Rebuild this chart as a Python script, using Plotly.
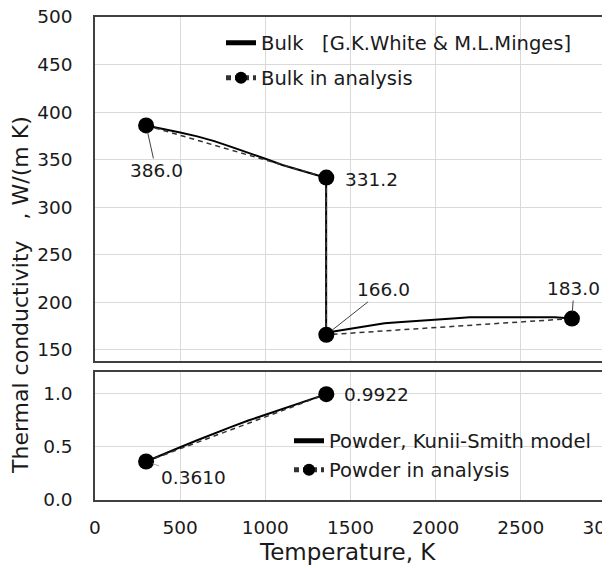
import plotly.graph_objects as go

# ---------------- data ----------------
bulk_ref_T = [300, 400, 500, 600, 700, 800, 900, 1000, 1100, 1200, 1300, 1357,
              1357, 1400, 1500, 1600, 1700, 1800, 1900, 2000, 2100, 2200, 2400, 2600, 2700, 2800]
bulk_ref_k = [386.0, 382.5, 378.5, 374.5, 369.5, 363.5, 357.5, 351.0, 344.5, 339.0, 334.0, 331.2,
              166.0, 169.5, 172.5, 175.5, 178.0, 179.5, 180.5, 181.5, 183.0, 184.5, 184.7, 184.7, 184.5, 183.0]

bulk_an_T = [300, 1358, 1358, 2800]
bulk_an_k = [386.0, 331.2, 166.0, 183.0]

powder_ks_T = [300, 400, 500, 600, 700, 800, 900, 1000, 1100, 1200, 1300, 1358]
powder_ks_k = [0.361, 0.430, 0.495, 0.560, 0.625, 0.685, 0.745, 0.800, 0.855, 0.910, 0.965, 0.9922]

powder_an_T = [300, 1358]
powder_an_k = [0.361, 0.9922]

bulk_labels = ["386.0", "331.2", "166.0", "183.0"]
powder_labels = ["0.3610", "0.9922"]

x_ticks = [0, 500, 1000, 1500, 2000, 2500, 3000]
y_top_ticks = [150, 200, 250, 300, 350, 400, 450, 500]
y_bot_ticks = [0.0, 0.5, 1.0]

# ---------------- style ----------------
FONT = "DejaVu Sans, Liberation Sans, Arial, sans-serif"
TXT = "#1a1a1a"
GRID = "#d9d9d9"
BOX = "#404040"

# page body has an 8px default margin -> figure is 8px smaller and shifted
W, H = 602, 560
ML, MR, MT, MB = 87, 4, 9, 68
PW, PH = W - ML - MR, H - MT - MB   # 511 x 483

fig = go.Figure()

fig.add_trace(go.Scatter(x=bulk_ref_T, y=bulk_ref_k, mode="lines",
                         line=dict(color="#000000", width=2),
                         name="Bulk\u00a0\u00a0\u00a0[G.K.White & M.L.Minges]",
                         legend="legend", xaxis="x", yaxis="y"))
fig.add_trace(go.Scatter(x=bulk_an_T, y=bulk_an_k, mode="lines+markers",
                         line=dict(color="#333333", width=1.5, dash="5px,4px"),
                         marker=dict(color="#000000", size=16),
                         name="Bulk in analysis",
                         legend="legend2", xaxis="x", yaxis="y"))
fig.add_trace(go.Scatter(x=powder_ks_T, y=powder_ks_k, mode="lines",
                         line=dict(color="#000000", width=2),
                         name="Powder, Kunii-Smith model",
                         legend="legend3", xaxis="x2", yaxis="y2"))
fig.add_trace(go.Scatter(x=powder_an_T, y=powder_an_k, mode="lines+markers",
                         line=dict(color="#333333", width=1.5, dash="5px,4px"),
                         marker=dict(color="#000000", size=16),
                         name="Powder in analysis",
                         legend="legend4", xaxis="x2", yaxis="y2"))

axis_common = dict(showgrid=True, gridcolor=GRID, gridwidth=1, zeroline=False,
                   showline=True, linecolor=BOX, linewidth=1.5, mirror=True,
                   automargin=False, ticks="", ticklabeloverflow="allow",
                   tickfont=dict(family=FONT, size=18.5, color=TXT))

def px_x(px):   # page pixel -> paper x
    return (px - 8 - ML) / PW

def px_y(py):   # page pixel -> paper y
    return (H - MB - (py - 8)) / PH

def leg(x, y):
    return dict(x=x, y=y, xanchor="left", yanchor="middle", bgcolor="rgba(0,0,0,0)",
                font=dict(family=FONT, size=19.5, color=TXT), itemsizing="constant",
                borderwidth=0)

fig.update_layout(
    width=W, height=H,
    margin=dict(l=ML, r=MR, t=MT, b=MB),
    paper_bgcolor="white", plot_bgcolor="white",
    font=dict(family=FONT, color=TXT),
    xaxis=dict(domain=[0, 1], anchor="y", range=[0, 3000], tickvals=x_ticks,
               showticklabels=False, **axis_common),
    yaxis=dict(domain=[0.2878, 1], anchor="x", range=[138.4, 500], tickvals=y_top_ticks,
               ticklabelstandoff=17, **axis_common),
    xaxis2=dict(domain=[0, 1], anchor="y2", range=[0, 3000], tickvals=x_ticks,
                ticklabelstandoff=10, **axis_common),
    yaxis2=dict(domain=[0, 0.265], anchor="x2", range=[0, 1.2], tickvals=y_bot_ticks,
                tickformat=".1f", ticklabelstandoff=17, **axis_common),
    legend=leg(px_x(221), px_y(43)),
    legend2=leg(px_x(221), px_y(78)),
    legend3=leg(px_x(289), px_y(441)),
    legend4=leg(px_x(289), px_y(470)),
    showlegend=True,
)

lab_font = dict(family=FONT, size=18.5, color=TXT)
# bulk labels
fig.add_annotation(x=bulk_an_T[0], y=bulk_an_k[0], xref="x", yref="y", text=bulk_labels[0],
                   showarrow=True, arrowhead=0, arrowwidth=1, arrowcolor=BOX,
                   ax=10, ay=45, standoff=7, font=lab_font)
fig.add_annotation(x=bulk_an_T[1], y=bulk_an_k[1], xref="x", yref="y", text=bulk_labels[1],
                   showarrow=False, xanchor="left", xshift=17, yshift=-2, font=lab_font)
fig.add_annotation(x=bulk_an_T[2], y=bulk_an_k[2], xref="x", yref="y", text=bulk_labels[2],
                   showarrow=True, arrowhead=0, arrowwidth=1, arrowcolor=BOX,
                   ax=57, ay=-45, standoff=7, font=lab_font)
fig.add_annotation(x=bulk_an_T[3], y=bulk_an_k[3], xref="x", yref="y", text=bulk_labels[3],
                   showarrow=True, arrowhead=0, arrowwidth=1, arrowcolor=BOX,
                   ax=2, ay=-30, standoff=7, font=lab_font)
# powder labels
fig.add_annotation(x=powder_an_T[0], y=powder_an_k[0], xref="x2", yref="y2", text=powder_labels[0],
                   showarrow=True, arrowhead=0, arrowwidth=1, arrowcolor="#a6a6a6",
                   ax=47, ay=16, standoff=7, font=lab_font)
fig.add_annotation(x=powder_an_T[1], y=powder_an_k[1], xref="x2", yref="y2", text=powder_labels[1],
                   showarrow=False, xanchor="left", xshift=16, font=lab_font)

# axis titles
fig.add_annotation(xref="paper", yref="paper", x=px_x(347), y=px_y(552),
                   text="Temperature, K", showarrow=False, xanchor="center", yanchor="middle",
                   font=dict(family=FONT, size=23, color=TXT))
fig.add_annotation(xref="paper", yref="paper", x=px_x(20), y=px_y(295),
                   text="Thermal conductivity\u00a0\u00a0\u00a0, W/(m K)",
                   textangle=-90, showarrow=False, xanchor="center", yanchor="middle",
                   font=dict(family=FONT, size=22, color=TXT))

fig.write_html("out.html")
